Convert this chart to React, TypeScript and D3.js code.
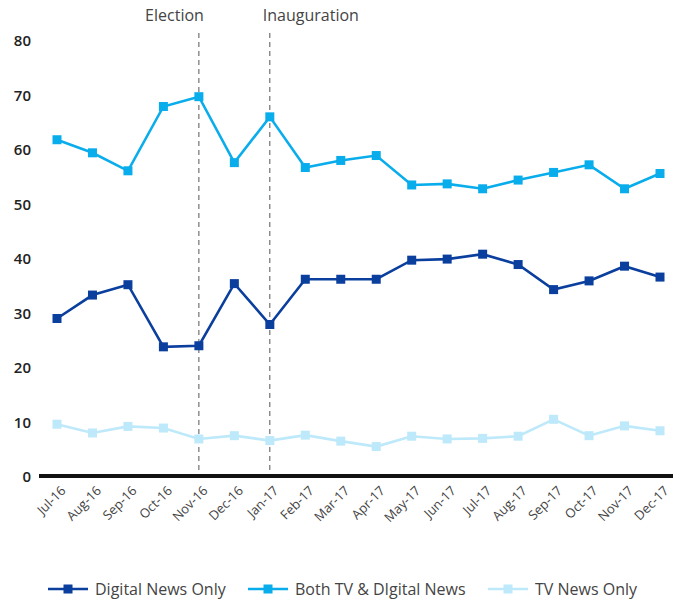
import React from "react";
import * as d3 from "d3";

const categories = ["Jul-16","Aug-16","Sep-16","Oct-16","Nov-16","Dec-16","Jan-17","Feb-17","Mar-17","Apr-17","May-17","Jun-17","Jul-17","Aug-17","Sep-17","Oct-17","Nov-17","Dec-17"];
const digitalOnly = [28.9,33.2,35.1,23.7,23.9,35.3,27.8,36.1,36.1,36.1,39.6,39.8,40.7,38.8,34.2,35.8,38.5,36.5];
const bothTvDigital = [61.7,59.3,56.0,67.8,69.6,57.5,65.9,56.6,57.9,58.8,53.4,53.6,52.7,54.3,55.7,57.1,52.7,55.5];
const tvOnly = [9.5,7.9,9.1,8.8,6.8,7.4,6.5,7.5,6.4,5.4,7.3,6.8,6.9,7.3,10.4,7.4,9.2,8.3];
const yTicks = [0,10,20,30,40,50,60,70,80];
const seriesNames = ["Digital News Only","Both TV & DIgital News","TV News Only"];
const events = [{ cat: "Nov-16", label: "Election" }, { cat: "Jan-17", label: "Inauguration" }];

const colors = ["#0B3F9E", "#0AADEB", "#BDE9FA"];

export default function App() {
  const W = 673, H = 604;
  const x = d3.scalePoint<string>().domain(categories).range([57, 660]);
  const y = d3.scaleLinear().domain([0, 80]).range([476, 40]);
  const series = [digitalOnly, bothTvDigital, tvOnly];
  const line = d3.line<number>().x((_, i) => x(categories[i])!).y(d => y(d));
  const font = "'Open Sans', sans-serif";
  const legendX = [48, 248, 488];
  const sq = 9;
  return (
    <svg width={W} height={H} style={{ position: "absolute", left: 0, top: 0, fontFamily: font }}>
      {yTicks.map(t => (
        <text key={t} x={31} y={y(t)} textAnchor="end" dominantBaseline="central" fontSize={15} fontWeight={600} fill="#222">{t}</text>
      ))}
      {events.map((e, i) => (
        <g key={e.label}>
          <line x1={x(e.cat)} x2={x(e.cat)} y1={33} y2={476} stroke="#555" strokeWidth={1} strokeDasharray="5,4" />
          <text x={i === 0 ? x(e.cat)! + 5 : x(e.cat)! - 7} y={15} textAnchor={i === 0 ? "end" : "start"} dominantBaseline="central" fontSize={16} fill="#444">{e.label}</text>
        </g>
      ))}
      <line x1={39} x2={673} y1={476} y2={476} stroke="#111" strokeWidth={4} />
      {categories.map(c => (
        <text key={c} transform={`translate(${x(c)! + 6},${488}) rotate(-45)`} textAnchor="end" dominantBaseline="central" fontSize={13} fill="#444">{c}</text>
      ))}
      {series.map((s, si) => (
        <g key={si}>
          <path d={line(s)!} fill="none" stroke={colors[si]} strokeWidth={2.6} />
          {s.map((v, i) => (
            <rect key={i} x={x(categories[i])! - sq / 2} y={y(v) - sq / 2} width={sq} height={sq} fill={colors[si]} />
          ))}
        </g>
      ))}
      {seriesNames.map((n, i) => (
        <g key={n}>
          <line x1={legendX[i]} x2={legendX[i] + 40} y1={589} y2={589} stroke={colors[i]} strokeWidth={2.6} />
          <rect x={legendX[i] + 20 - sq / 2} y={589 - sq / 2} width={sq} height={sq} fill={colors[i]} />
          <text x={legendX[i] + 47} y={589} dominantBaseline="central" fontSize={16} fill="#444">{n}</text>
        </g>
      ))}
    </svg>
  );
}
